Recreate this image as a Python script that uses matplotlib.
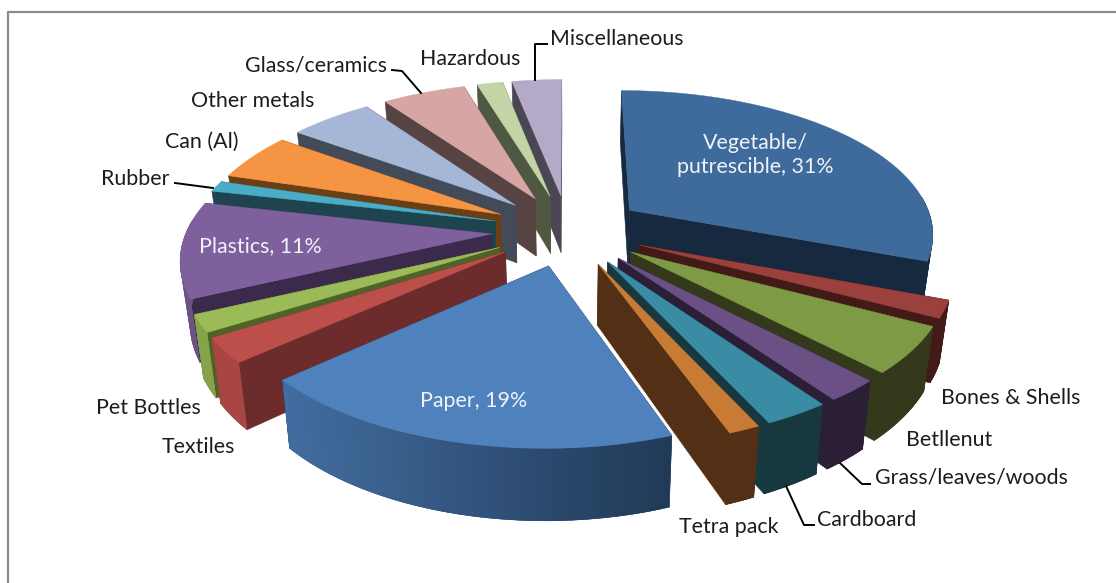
import matplotlib
matplotlib.use("Agg")
import matplotlib.pyplot as plt
import numpy as np

plt.rcParams['font.family'] = ['Lato', 'DejaVu Sans']

categories = ['Vegetable/putrescible', 'Bones & Shells', 'Betllenut', 'Grass/leaves/woods', 'Cardboard',
              'Tetra pack', 'Paper', 'Textiles', 'Pet Bottles', 'Plastics', 'Rubber', 'Can (Al)',
              'Other metals', 'Glass/ceramics', 'Hazardous', 'Miscellaneous']
shares = [30.8, 1.9, 5.1, 2.4, 2.9, 1.4, 19.0, 2.7, 1.9, 10.5, 1.2, 5.2, 5.2, 5.2, 1.6, 3.1]
top_colors = ['#3f6a9c', '#9b403c', '#7e9a45', '#6a5084', '#3a8ba4', '#c77b35', '#4f81bd', '#bd4f4b',
              '#9bbb59', '#7e609d', '#4bacc6', '#f59443', '#a5b6d6', '#d6a5a4', '#c3d5a6', '#b4a9c7']
wall_colors = ['#17293f', '#421a17', '#33391a', '#2a1f36', '#17383f', '#533015', '#213a57', '#6b2c2b',
               '#4f6227', '#3c2a4c', '#1d444f', '#6b3f14', '#434a58', '#574342', '#4f5840', '#4b4654']

# view of the 3D pie, in pixels
CX, CY = 568, 230
RX, RY = 305, 143
PERSP = 0.15
EXPLODE = 0.25
DEPTH = 59
BOTTOM_SHRINK = 0.975


def project(u, v, bottom=False):
    s = 1 / (1 + PERSP * v)
    x = RX * u * s
    y = -RY * v * s
    if bottom:
        return CX + x * BOTTOM_SHRINK, CY + y + DEPTH * s
    return CX + x, CY + y


def blend(c1, c2, t):
    a = np.array(matplotlib.colors.to_rgb(c1))
    b = np.array(matplotlib.colors.to_rgb(c2))
    return tuple(a + (b - a) * t)


def wall_shade(x, top, wall):
    # outer wall is lit from the left
    shade = np.clip((x - 280) / 390, 0, 1)
    return blend(blend(top, wall, 0.27), wall, shade)


def draw_slice(ax, start, end, top, wall):
    mid = (start + end) / 2
    ou, ov = EXPLODE * np.sin(mid), EXPLODE * np.cos(mid)
    th = np.linspace(start, end, 60)
    u = ou + np.sin(th)
    v = ov + np.cos(th)
    tx, ty = project(u, v)
    bx, by = project(u, v, bottom=True)
    tipx, tipy = project(np.array([ou]), np.array([ov]))
    tipbx, tipby = project(np.array([ou]), np.array([ov]), bottom=True)

    # radial side walls
    for i in (0, -1):
        ax.fill([tipx[0], tx[i], bx[i], tipbx[0]], [tipy[0], ty[i], by[i], tipby[0]],
                color=wall, lw=0.4, zorder=ax.next_z)
        ax.next_z += 1
    # outer wall: a solid base, then overlapping strips for the shading
    front = np.cos(th) <= 0.1  # the rest faces away from the viewer
    if front.sum() > 1:
        ax.fill(np.r_[tx[front], bx[front][::-1]], np.r_[ty[front], by[front][::-1]],
                color=wall_shade(tx[front].mean(), top, wall), lw=0.3, zorder=ax.next_z)
        ax.next_z += 1
        for i in np.nonzero(front)[0][:-1]:
            j = min(i + 2, len(th) - 1)
            ax.fill([tx[i], tx[j], bx[j], bx[i]], [ty[i], ty[j], by[j], by[i]],
                    facecolor=wall_shade(tx[i], top, wall), edgecolor='none', lw=0, zorder=ax.next_z)
            ax.next_z += 1
    ax.fill(np.r_[tipx, tx], np.r_[tipy, ty], color=top, lw=0.3, zorder=ax.next_z)
    ax.next_z += 1


fig = plt.figure(figsize=(11.16, 5.83), dpi=100)
ax = fig.add_axes([0, 0, 1, 1])
ax.set_xlim(0, 1116)
ax.set_ylim(583, 0)
ax.axis('off')
ax.next_z = 3

# chart frame, cut by the picture on the right and at the bottom
ax.plot([8, 8, 1116], [583, 12, 12], color='#8c8c8c', lw=1.6, zorder=1)

vals = np.array(shares)
edges = np.r_[0, np.cumsum(vals)] / vals.sum() * 2 * np.pi
mids = (edges[:-1] + edges[1:]) / 2
for i in np.argsort(-np.cos(mids)):
    draw_slice(ax, edges[i], edges[i + 1], top_colors[i], wall_colors[i])

label_size = 15.4
z = 5000
ax.text(755, 155, 'Vegetable/\nputrescible, 31%', color='#eef3f8', fontsize=label_size, ha='center',
        va='center', linespacing=1.2, zorder=z)
ax.text(474, 401, 'Paper, 19%', color='#eef3f8', fontsize=label_size, ha='center', va='center', zorder=z)
ax.text(260, 246, 'Plastics, 11%', color='#eef3f8', fontsize=label_size, ha='center', va='center', zorder=z)

outside = [('Bones & Shells', 1011, 398), ('Betllenut', 949, 440), ('Grass/leaves/woods', 971, 477),
           ('Cardboard', 867, 520), ('Tetra pack', 729, 527), ('Textiles', 198, 447),
           ('Pet Bottles', 148, 408), ('Rubber', 135, 179), ('Can (Al)', 202, 142),
           ('Other metals', 253, 101), ('Glass/ceramics', 316, 65), ('Hazardous', 470, 59),
           ('Miscellaneous', 617, 39)]
for name, x, y in outside:
    ax.text(x, y, name, color='#1c1c1c', fontsize=label_size, ha='center', va='center', zorder=z)

# leader lines
leaders = [([175, 213], [183, 188]), ([392, 402, 421], [70, 71, 93]), ([535, 535, 547], [80, 44, 44]),
           ([840, 862, 870], [463, 484, 484]), ([786, 804, 814], [486, 525, 525])]
for xs, ys in leaders:
    ax.plot(xs, ys, color='black', lw=1.4, zorder=z)

fig.savefig('out.png', dpi=100)
